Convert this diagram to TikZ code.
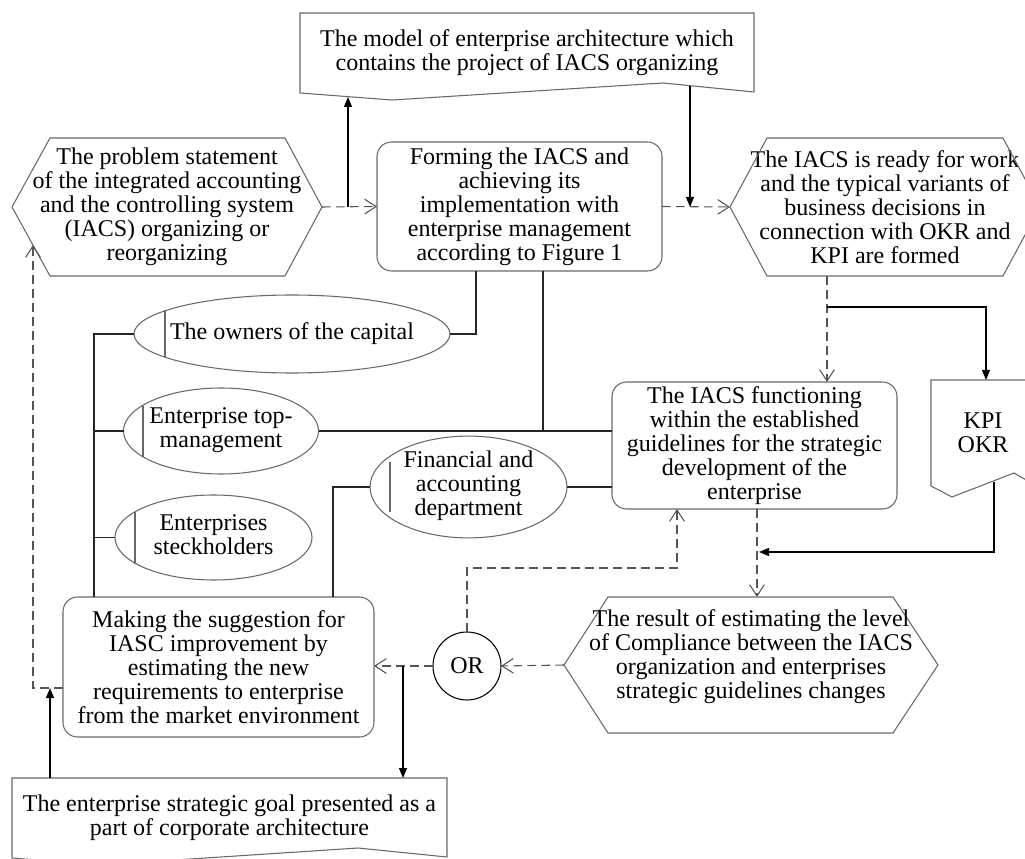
\documentclass[tikz,border=0pt]{standalone}
\usepackage{fontspec}
\setmainfont{Liberation Serif}
\usetikzlibrary{arrows.meta,calc,shapes.geometric}
\definecolor{outl}{RGB}{105,105,105}
\definecolor{dashc}{RGB}{85,85,85}
\begin{document}
\begin{tikzpicture}[x=0.75pt,y=-0.75pt,
  every node/.style={font=\fontsize{18}{18}\selectfont, inner sep=0pt, outer sep=0pt},
  shp/.style={draw=outl, line width=0.8pt},
  rbox/.style={shp, rectangle, rounded corners=11pt, align=center},
  plain/.style={rectangle, align=center},
  ell/.style={shp, ellipse},
  dl/.style={draw=dashc, line width=0.8pt, dash pattern=on 6.5pt off 4pt, -{Straight Barb[length=8.5pt,width=11pt]}},
  sl/.style={draw=black, line width=0.8pt, -{Triangle[length=7.5pt,width=6pt]}},
  cl/.style={draw=black!85, line width=0.8pt}
]
\useasboundingbox (0,0) rectangle (1025,859);
\clip (0,0) rectangle (1025,859);

% ---------- document shapes ----------
\node[plain, minimum width=340.5pt, minimum height=60pt] (model) at (527,53)
  {The model of enterprise architecture which\\contains the project of IACS organizing};
\draw[shp] (300,13) -- (754,13) -- (754,92) -- (663,83) -- (392,100) -- (300,93) -- cycle;

\node[plain, minimum width=78pt, minimum height=79.5pt] (kpi) at (983,433) {KPI\\OKR};
\draw[shp] (931,380) -- (1035,380) -- (1035,485) -- (1014,473) -- (952,497) -- (931,486) -- cycle;

\node[plain, minimum width=326.25pt, minimum height=60pt] (goal) at (229.5,818)
  {The enterprise strategic goal presented as a\\part of corporate architecture};
\draw[shp] (12,778) -- (447,778) -- (447,857) -- (358,848) -- (99,865) -- (12,858) -- cycle;

% ---------- hexagons ----------
\node[plain, minimum width=232.5pt, minimum height=103.5pt] (lhex) at (167,207)
  {The problem statement\\of the integrated accounting\\and the controlling system\\(IACS) organizing or\\reorganizing};
\draw[shp] (lhex.west) -- ($(lhex.north west)+(38,0)$) -- ($(lhex.north east)+(-37,0)$) -- (lhex.east)
  -- ($(lhex.south east)+(-37,0)$) -- ($(lhex.south west)+(38,0)$) -- cycle;

\node[plain, minimum width=232.5pt, minimum height=103.5pt] (rhex) at (885,207)
  {The IACS is ready for work\\and the typical variants of\\business decisions in\\connection with OKR and\\KPI are formed};
\draw[shp] (rhex.west) -- ($(rhex.north west)+(37,0)$) -- ($(rhex.north east)+(-37,0)$) -- (rhex.east)
  -- ($(rhex.south east)+(-37,0)$) -- ($(rhex.south west)+(37,0)$) -- cycle;

\node[plain, minimum width=280.5pt, minimum height=102pt] (res) at (751,665) {};
\draw[shp] (res.west) -- ($(res.north west)+(44,0)$) -- ($(res.north east)+(-45,0)$) -- (res.east)
  -- ($(res.south east)+(-45,0)$) -- ($(res.south west)+(44,0)$) -- cycle;
\node[plain] (restext) at (751,657)
  {The result of estimating the level\\of Compliance between the IACS\\organization and enterprises\\strategic guidelines changes};

% ---------- rounded boxes ----------
\node[rbox, minimum width=213.75pt, minimum height=96.75pt] (form) at (519.5,206.5)
  {Forming the IACS and\\achieving its\\implementation with\\enterprise management\\according to Figure 1};
\node[rbox, minimum width=213.75pt, minimum height=95.25pt] (iacs) at (754.5,445.5)
  {The IACS functioning\\within the established\\guidelines for the strategic\\development of the\\enterprise};
\node[rbox, minimum width=233.25pt, minimum height=105pt] (mk) at (218.5,667)
  {Making the suggestion for\\IASC improvement by\\estimating the new\\requirements to enterprise\\from the market environment};

% ---------- ellipses ----------
\node[ell, minimum width=237pt, minimum height=58.5pt] (e1) at (292,334)
  {\makebox[0pt]{The owners of the capital}};
\draw[shp] (165,310.5) -- (165,357.5);
\node[ell, minimum width=146.25pt, minimum height=64.5pt] (e2) at (221,431)
  {\makebox[0pt]{\begin{tabular}{@{}c@{}}Enterprise top-\\management\end{tabular}}};
\draw[shp] (143,405.5) -- (143,456.5);
\node[ell, minimum width=147.75pt, minimum height=63.75pt] (e3) at (213.5,537.5)
  {\makebox[0pt]{\begin{tabular}{@{}c@{}}Enterprises\\steckholders\end{tabular}}};
\draw[shp] (135,511.5) -- (135,563.5);
\node[ell, minimum width=147.75pt, minimum height=63pt] (e4) at (468.5,487)
  {\makebox[0pt]{\begin{tabular}{@{}c@{}}Financial and\\accounting\\department\end{tabular}}};
\draw[shp] (390,462) -- (390,512);

% ---------- OR ----------
\node[draw=black, line width=0.8pt, circle, minimum size=51pt] (or) at (467,666) {OR};

% ---------- coordinates ----------
\coordinate (j1) at (348,207);
\coordinate (mA) at (348,97);
\coordinate (mB) at (690,86);
\coordinate (j2) at (690,207);
\coordinate (rA) at (827,276);
\coordinate (iA) at (827,382);
\coordinate (j3) at (827,307);
\coordinate (kA) at (986,380);
\coordinate (kB) at (994,482);
\coordinate (j4) at (759,552);
\coordinate (iB) at (757,509);
\coordinate (rsA) at (757,597);
\coordinate (j5) at (403,666);
\coordinate (gA) at (403,778);
\coordinate (c1) at (677,568);
\coordinate (iC) at (677,509);
\coordinate (mkW) at (63,688);
\coordinate (c2) at (33,688);
\coordinate (lA) at (33,245);
\coordinate (gB) at (50,778);
\coordinate (j6) at (50,688);
\coordinate (sp) at (94,597);
\coordinate (fA) at (476,271);
\coordinate (fB) at (543,271);
\coordinate (mkA) at (333,597);

% ---------- dashed flow ----------
\draw[dl] (lhex.east) -- (form.west);
\draw[dl] (form.east) -- (rhex.west);
\draw[dl] (rA) -- (iA);
\draw[dl] (iB) -- (rsA);
\draw[dl] (res.west) -- (or.east);
\draw[dl] (or.west) -- (or.west -| mk.east);
\draw[dl] (or.north) |- (c1) -- (iC);
\draw[dl] (mkW) -- (c2) -- (lA);

% ---------- solid arrows ----------
\draw[sl] (j1) -- (mA);
\draw[sl] (mB) -- (j2);
\draw[sl] (j3) -| (kA);
\draw[sl] (kB) |- (j4);
\draw[sl] (j5) -- (gA);
\draw[sl] (gB) -- (j6);

% ---------- plain connectors ----------
\draw[cl] (e1.west) -| (sp);
\draw[cl] (e2.west) -- (e2.west -| sp);
\draw[cl] (e3.west) -- (e3.west -| sp);
\draw[cl] (e1.east) -| (fA);
\draw[cl] (e2.east) -- (e2.east -| iacs.west);
\draw[cl] (fB) -- (fB |- e2.east);
\draw[cl] (e4.west) -| (mkA);
\draw[cl] (e4.east) -- (e4.east -| iacs.west);
\end{tikzpicture}
\end{document}
